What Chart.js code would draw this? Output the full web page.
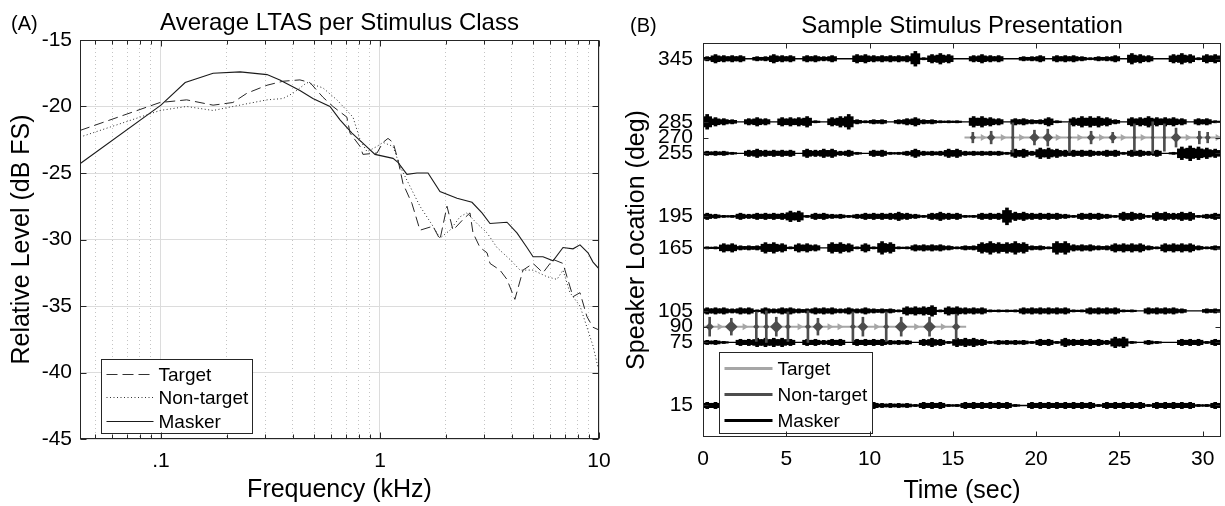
<!DOCTYPE html>
<html lang="en">
<head>
  <meta charset="UTF-8">
  <title>Average LTAS and Sample Stimulus Presentation</title>
  <script src="https://cdn.jsdelivr.net/npm/chart.js"></script>
  <style>
    body { margin: 0; background: #fff; }
    canvas { position: absolute; top: 0; }
  </style>
</head>
<body>
  <canvas id="ltasChart" width="612" height="506" style="left:0"></canvas>
  <canvas id="stimChart" width="613" height="506" style="left:612px"></canvas>

  <script>
    // ---- (A) average LTAS, frequency in kHz, level in dB FS ----
    const classNames = ['Target', 'Non-target', 'Masker'];

    const targetFreq  = [0.0427, 0.099, 0.131, 0.173, 0.213, 0.247, 0.305, 0.361, 0.431, 0.479, 0.549, 0.61, 0.706, 0.73, 0.811, 0.836, 0.969, 1.032, 1.088, 1.147, 1.208, 1.274, 1.4, 1.523, 1.746, 1.879, 2.023, 2.155, 2.393, 2.576, 2.659, 2.862, 3.082, 3.18, 3.53, 3.8, 4.13, 4.5, 5.0, 5.55, 6.17, 6.85, 7.14, 7.61, 8.19, 8.81, 9.39, 10];
    const targetLevel = [-21.8, -19.7, -19.5, -19.9, -19.7, -19.0, -18.4, -18.1, -18.0, -18.2, -19.3, -20.0, -20.8, -22.0, -23.0, -23.6, -23.5, -22.7, -22.4, -22.7, -24.0, -25.8, -27.3, -29.3, -29.0, -30.0, -27.5, -29.3, -28.5, -28.0, -29.5, -30.6, -31.0, -31.8, -32.3, -33.0, -34.5, -32.3, -31.8, -32.5, -31.5, -31.8, -32.8, -34.3, -34.0, -35.8, -36.6, -36.8];

    const nonTargetFreq  = [0.0427, 0.099, 0.131, 0.173, 0.213, 0.305, 0.361, 0.401, 0.464, 0.549, 0.636, 0.753, 0.811, 0.873, 0.969, 1.032, 1.147, 1.234, 1.371, 1.523, 1.746, 1.879, 2.088, 2.318, 2.495, 2.773, 3.082, 3.42, 3.92, 4.36, 5.0, 5.79, 6.43, 6.85, 7.37, 8.19, 8.81, 9.39, 9.89];
    const nonTargetLevel = [-22.3, -20.3, -20.0, -20.3, -20.0, -19.5, -19.4, -19.0, -18.2, -18.6, -19.5, -20.8, -22.5, -23.4, -23.0, -22.7, -23.0, -24.5, -26.0, -27.5, -29.0, -29.9, -29.3, -28.3, -28.0, -28.8, -29.5, -30.6, -31.5, -32.3, -32.3, -32.8, -33.0, -32.3, -34.0, -35.0, -36.6, -38.0, -39.6];

    const maskerFreq  = [0.0427, 0.1, 0.129, 0.173, 0.23, 0.305, 0.349, 0.431, 0.494, 0.591, 0.657, 0.745, 0.828, 0.949, 1.147, 1.208, 1.328, 1.475, 1.657, 1.879, 2.248, 2.631, 2.923, 3.18, 3.8, 4.22, 4.69, 5.0, 5.55, 6.17, 6.85, 7.61, 8.19, 8.91, 9.39, 10];
    const maskerLevel = [-24.3, -19.9, -18.2, -17.5, -17.4, -17.6, -18.0, -18.8, -19.4, -20.0, -21.0, -22.0, -22.7, -23.6, -23.9, -24.2, -25.1, -25.0, -25.0, -26.4, -26.9, -27.2, -28.0, -28.8, -28.7, -29.5, -30.6, -31.3, -31.3, -31.6, -30.6, -30.7, -30.4, -31.0, -31.7, -32.2];

    const freqTicks  = [0.05, 0.06, 0.07, 0.08, 0.09, 0.1, 0.2, 0.3, 0.4, 0.5, 0.6, 0.7, 0.8, 0.9, 1, 2, 3, 4, 5, 6, 7, 8, 9, 10];
    const freqLabels = { 0.1: '.1', 1: '1', 10: '10' };
    const levelTicks = [-45, -40, -35, -30, -25, -20, -15];

    // ---- (B) sample stimulus presentation ----
    const speakerTicks = [15, 75, 90, 105, 165, 195, 255, 270, 285, 345];
    const timeTicks = [0, 5, 10, 15, 20, 25, 30];
    const timeMax = 31.1;
    const binWidth = 0.5; // envelope bins, sec

    // masker envelopes (half height in deg) per 0.5 s bin
    const maskerTracks = [345, 285, 255, 195, 165, 105, 75, 15];
    const env345 = [2,4,3,3,3,0,2,2,4,3, 3,0,3,3,2,3,0,0,4,4, 3,3,3,3,3,7,1,4,5,4, 0,0,3,4,3,3,0,0,2,2, 3,0,3,3,3,2,1,2,2,3, 0,5,4,3,0,0,4,5,4,1, 4,4];
    const env285 = [7,4,3,2,0,3,4,3,0,4, 4,4,5,1,0,4,5,7,2,1, 2,2,0,2,3,4,2,2,1,1, 1,0,5,5,4,3,0,3,3,2, 2,4,1,0,4,5,5,5,4,2, 0,4,4,5,4,4,4,3,0,3, 3,1];
    const env255 = [2,2,2,1,0,3,4,3,3,3, 3,0,4,3,4,4,2,3,1,0, 3,3,1,1,2,4,2,2,2,4, 4,2,2,2,2,2,1,4,4,2, 5,5,4,3,3,3,3,2,3,3, 1,3,3,2,3,0,1,6,7,6, 5,4];
    const env195 = [3,2,1,1,3,2,3,3,3,3, 5,5,1,3,3,2,2,1,2,3, 3,3,3,4,3,2,1,3,4,3, 3,1,1,3,3,3,8,4,4,3, 3,3,3,2,1,3,3,3,2,1, 4,4,3,1,4,4,3,4,4,1, 2,3];
    const env165 = [1,1,4,4,2,2,2,5,5,4, 1,4,4,3,0,5,5,4,1,4, 1,6,5,1,1,3,3,3,3,2, 1,2,2,5,6,5,5,6,5,2, 2,1,6,6,3,3,3,2,2,4, 4,4,4,2,1,4,4,4,4,2, 1,2];
    const env105 = [3,3,3,2,3,3,1,3,2,3, 3,2,2,3,3,3,2,3,2,3, 2,2,2,1,4,4,4,5,1,4, 4,3,3,3,1,1,1,1,3,3, 3,3,3,3,1,1,3,3,3,3, 1,1,0,3,3,3,3,2,0,0, 2,2];
    const env75  = [2,2,1,0,3,3,4,4,4,4, 3,0,3,3,2,3,3,0,3,3, 3,3,2,2,2,0,3,4,3,1, 4,4,4,3,1,2,2,2,2,1, 3,3,1,4,3,3,3,3,2,5, 5,1,0,2,1,0,0,3,3,3, 1,3];
    // 1-10 s hidden behind the legend
    const env15  = [3,3,null,null,null,null,null,null,null,null, null,null,null,null,null,null,null,null,null,null, 3,2,2,2,2,1,3,3,3,1, 1,3,3,3,3,3,3,1,0,3, 3,3,3,3,3,3,3,1,3,3, 3,3,3,1,3,3,3,3,3,1, 1,3];
    const maskerEnvelopes = [env345, env285, env255, env195, env165, env105, env75, env15];

    // target / non-target streams
    const stimTracks = [270, 90];
    const stimSpans = [[15.7, 31.1], [0, 15.8]];
    const targetTimes = [
      [16.8, 18.0, 19.1, 21.3, 22.6, 23.9, 25.2, 26.4, 29.1, 30.9],
      [1.0, 2.5, 5.8, 7.6, 8.2, 10.4, 12.8, 14.4]
    ];
    const nonTargetTimes = [
      [16.2, 17.3, 18.6, 19.9, 20.7, 22.0, 23.3, 24.6, 25.9, 27.0, 27.7, 28.4, 29.8, 30.3],
      [0.4, 1.7, 3.2, 3.8, 4.4, 5.1, 6.3, 6.9, 9.0, 9.6, 11.0, 11.9, 13.6, 15.2]
    ];
    const nonTargetBody = [
      [3, 4, 2, 5, 5, 2, 4, 4, 2, 2, 2, 5, 3, 3],
      [4, 6, 3, 3, 6, 3, 3, 5, 3, 5, 3, 6, 6, 4]
    ];
    const nonTargetPeak = [
      [5, 6, 14, 7, 8, 14, 6, 5, 13, 15, 13, 9, 6, 5],
      [9, 8, 14, 15, 9, 14, 15, 8, 14, 9, 14, 9, 9, 12]
    ];

    const FONT = '"Liberation Sans", Arial, Helvetica, sans-serif';
    Chart.defaults.font.family = FONT;
    Chart.defaults.color = '#000';
    Chart.defaults.animation = false;

    function pts(xs, ys) {
      return xs.map((x, i) => ({ x: x, y: ys[i] }));
    }

    // title and panel letter
    const panelText = {
      id: 'panelText',
      afterDraw(chart, args, o) {
        const { ctx, chartArea: a } = chart;
        ctx.save();
        ctx.fillStyle = '#000';
        ctx.textBaseline = 'alphabetic';
        ctx.font = '24px ' + FONT;
        ctx.textAlign = 'center';
        ctx.fillText(o.title, (a.left + a.right) / 2, o.titleY);
        ctx.font = '20px ' + FONT;
        ctx.textAlign = 'left';
        ctx.fillText(o.tag, o.tagX, o.tagY);
        ctx.restore();
      }
    };

    // legend box inside the axes
    const boxLegend = {
      id: 'boxLegend',
      afterDatasetsDraw(chart, args, o) {
        const { ctx, chartArea: a } = chart;
        const x0 = Math.round(a.left + o.left) + 0.5;
        const y0 = Math.round(a.bottom - o.bottom - o.height) + 0.5;
        ctx.save();
        ctx.fillStyle = '#fff';
        ctx.fillRect(x0, y0, o.width, o.height);
        ctx.strokeStyle = '#262626';
        ctx.lineWidth = 1;
        ctx.strokeRect(x0, y0, o.width, o.height);
        o.items.forEach((it, i) => {
          const y = Math.round(y0 + o.firstRow + i * o.rowGap) + 0.5;
          ctx.beginPath();
          ctx.setLineDash(it.dash || []);
          ctx.strokeStyle = it.color;
          ctx.lineWidth = it.width;
          ctx.moveTo(x0 + o.lineX0, y);
          ctx.lineTo(x0 + o.lineX1, y);
          ctx.stroke();
          ctx.setLineDash([]);
          ctx.fillStyle = '#000';
          ctx.font = o.fontSize + 'px ' + FONT;
          ctx.textBaseline = 'middle';
          ctx.fillText(it.label, x0 + o.textX, y + 1);
        });
        ctx.restore();
      }
    };

    // box round the axes with inward tick marks
    const frame = {
      id: 'frame',
      afterDatasetsDraw(chart, args, o) {
        const { ctx, chartArea: a, scales: { x, y } } = chart;
        const L = Math.round(a.left) + 0.5, R = Math.round(a.right) - 0.5;
        const T = Math.round(a.top) + 0.5, B = Math.round(a.bottom) - 0.5;
        ctx.save();
        ctx.strokeStyle = '#262626';
        ctx.lineWidth = 1;
        ctx.beginPath();
        x.ticks.forEach(t => {
          const p = Math.round(x.getPixelForValue(t.value)) + 0.5;
          const len = o.xLen(t.value);
          ctx.moveTo(p, T); ctx.lineTo(p, T + len);
          ctx.moveTo(p, B); ctx.lineTo(p, B - len);
        });
        y.ticks.forEach(t => {
          const p = Math.round(y.getPixelForValue(t.value)) + 0.5;
          ctx.moveTo(L, p); ctx.lineTo(L + o.yLen, p);
          ctx.moveTo(R, p); ctx.lineTo(R - o.yLen, p);
        });
        ctx.stroke();
        ctx.strokeRect(L, T, R - L, B - T);
        ctx.restore();
      }
    };

    const isDecade = v => v === 0.1 || v === 1 || v === 10;
    const clear = 'rgba(0,0,0,0)';

    // ---- chart A ----
    new Chart(document.getElementById('ltasChart'), {
      type: 'line',
      data: {
        datasets: [
          { label: classNames[0], data: pts(targetFreq, targetLevel), borderColor: '#262626', borderWidth: 1, borderDash: [10, 5] },
          { label: classNames[1], data: pts(nonTargetFreq, nonTargetLevel), borderColor: '#262626', borderWidth: 1, borderDash: [1, 2.5] },
          { label: classNames[2], data: pts(maskerFreq, maskerLevel), borderColor: '#1a1a1a', borderWidth: 1.1 }
        ]
      },
      options: {
        responsive: false,
        animation: false,
        layout: { padding: { top: 40, right: 13, left: 0, bottom: 0 } },
        elements: { point: { radius: 0 }, line: { tension: 0 } },
        plugins: {
          legend: { display: false },
          tooltip: { enabled: false },
          panelText: { title: 'Average LTAS per Stimulus Class', titleY: 30, tag: '(A)', tagX: 11, tagY: 30 },
          boxLegend: {
            left: 21, bottom: 6, width: 151, height: 74, firstRow: 14, rowGap: 23.5,
            lineX0: 5, lineX1: 52, textX: 57, fontSize: 19,
            items: [
              { label: classNames[0], color: '#333', width: 1, dash: [11, 5] },
              { label: classNames[1], color: '#333', width: 1, dash: [1, 2.5] },
              { label: classNames[2], color: '#1a1a1a', width: 1 }
            ]
          },
          frame: { xLen: v => isDecade(v) ? 6 : 4, yLen: 6 }
        },
        scales: {
          x: {
            type: 'logarithmic',
            min: 0.0427,
            max: 10,
            afterBuildTicks: s => { s.ticks = freqTicks.map(v => ({ value: v })); },
            afterFit: s => { s.height = 67; },
            grid: {
              drawTicks: true, tickLength: 10, tickColor: clear,
              color: c => isDecade(c.tick.value) ? '#dcdcdc' : '#c4c4c4'
            },
            border: { display: false, dash: c => isDecade(c.tick.value) ? [] : [1, 3] },
            ticks: {
              autoSkip: false, maxRotation: 0, padding: 0, font: { size: 21 },
              callback: v => freqLabels[v] || ''
            },
            title: { display: true, text: 'Frequency (kHz)', font: { size: 25 }, padding: { top: 0, bottom: 1 } }
          },
          y: {
            min: -45,
            max: -15,
            afterBuildTicks: s => { s.ticks = levelTicks.map(v => ({ value: v })); },
            afterFit: s => { s.width = 80; },
            grid: { drawTicks: false, color: '#dcdcdc' },
            border: { display: false },
            ticks: { padding: 8, font: { size: 21 } },
            title: { display: true, text: 'Relative Level (dB FS)', font: { size: 25 }, padding: { top: 7, bottom: 0 } }
          }
        }
      },
      plugins: [panelText, boxLegend, frame]
    });

    // ---- chart B ----
    const stimColors = { target: '#a6a6a6', nonTarget: '#4d4d4d', masker: '#000' };
    const degPx = chart => chart.scales.y.getPixelForValue(0) - chart.scales.y.getPixelForValue(1);
    const stimSets = [];

    maskerTracks.forEach((loc, k) => {
      stimSets.push({
        type: 'line', order: 7, borderColor: stimColors.masker, borderWidth: 1.3, pointRadius: 0,
        data: [{ x: 0, y: loc }, { x: timeMax, y: loc }]
      });
      const body = [], peaks = [];
      maskerEnvelopes[k].forEach((amp, i) => {
        if (!amp) return;
        const t = (i + 0.5) * binWidth;
        body.push({ x: t, y: [loc - amp * 0.7, loc + amp * 0.7] });
        peaks.push({ x: t, y: [loc - amp, loc + amp] });
      });
      // dense core of the envelope, then its peaks
      stimSets.push({
        type: 'bar', order: 6, grouped: false, barThickness: 9, borderWidth: 0,
        backgroundColor: stimColors.masker, data: body
      });
      stimSets.push({
        type: 'bar', order: 5, grouped: false, barThickness: 3, borderWidth: 0,
        backgroundColor: stimColors.masker, data: peaks
      });
    });

    stimTracks.forEach((loc, k) => {
      stimSets.push({
        type: 'line', order: 4, borderColor: stimColors.target, borderWidth: 2, pointRadius: 0,
        data: stimSpans[k].map(t => ({ x: t, y: loc }))
      });
      stimSets.push({
        type: 'bar', order: 3, grouped: false, barThickness: 2, borderWidth: 0,
        backgroundColor: stimColors.nonTarget,
        data: nonTargetTimes[k].map((t, i) => ({ x: t, y: [loc - nonTargetPeak[k][i], loc + nonTargetPeak[k][i]] }))
      });
      stimSets.push({
        type: 'scatter', order: 2, pointStyle: 'rectRot', borderWidth: 0,
        backgroundColor: stimColors.nonTarget,
        pointRadius: c => nonTargetBody[k][c.dataIndex] * degPx(c.chart),
        data: nonTargetTimes[k].map(t => ({ x: t, y: loc }))
      });
      stimSets.push({
        type: 'scatter', order: 1, pointStyle: 'triangle', rotation: 90, borderWidth: 0,
        backgroundColor: stimColors.target, pointRadius: 4,
        data: targetTimes[k].map(t => ({ x: t, y: loc }))
      });
    });

    new Chart(document.getElementById('stimChart'), {
      type: 'bar',
      data: { datasets: stimSets },
      options: {
        responsive: false,
        animation: false,
        layout: { padding: { top: 43, right: 2, left: 0, bottom: 0 } },
        plugins: {
          legend: { display: false },
          tooltip: { enabled: false },
          panelText: { title: 'Sample Stimulus Presentation', titleY: 33, tag: '(B)', tagX: 18, tagY: 32 },
          boxLegend: {
            left: 16, bottom: 4, width: 153, height: 81, firstRow: 15, rowGap: 26,
            lineX0: 5, lineX1: 53, textX: 58, fontSize: 19,
            items: [
              { label: classNames[0], color: stimColors.target, width: 3 },
              { label: classNames[1], color: stimColors.nonTarget, width: 3 },
              { label: classNames[2], color: stimColors.masker, width: 3 }
            ]
          },
          frame: { xLen: () => 5, yLen: 5 }
        },
        scales: {
          x: {
            type: 'linear',
            min: 0,
            max: timeMax,
            offset: false,
            afterBuildTicks: s => { s.ticks = timeTicks.map(v => ({ value: v })); },
            afterFit: s => { s.height = 69; },
            grid: { drawOnChartArea: false, drawTicks: true, tickLength: 10, tickColor: clear, offset: false },
            border: { display: false },
            ticks: { autoSkip: false, maxRotation: 0, padding: 0, font: { size: 21 } },
            title: { display: true, text: 'Time (sec)', font: { size: 25 }, padding: { top: 0, bottom: 0 } }
          },
          y: {
            type: 'linear',
            min: -15,
            max: 360,
            afterBuildTicks: s => { s.ticks = speakerTicks.map(v => ({ value: v })); },
            afterFit: s => { s.width = 91; },
            grid: { display: false, drawTicks: false },
            border: { display: false },
            ticks: { autoSkip: false, padding: 10, font: { size: 21 } },
            title: { display: true, text: 'Speaker Location (deg)', font: { size: 25 }, padding: { top: 10, bottom: 0 } }
          }
        }
      },
      plugins: [panelText, boxLegend, frame]
    });
  </script>
</body>
</html>
